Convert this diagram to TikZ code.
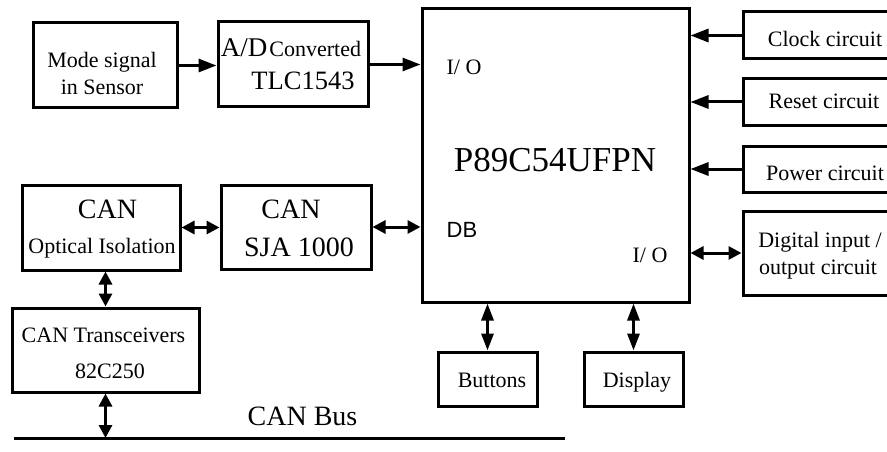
\documentclass[tikz,border=0pt]{standalone}
\usepackage{fontspec}
\setmainfont{Liberation Serif}
\newfontfamily\sansf{Liberation Sans}
\usetikzlibrary{arrows.meta}
\newcommand{\fs}[1]{\fontsize{#1}{#1}\selectfont}
\begin{document}
\begin{tikzpicture}[x=1pt,y=-1pt,
  box/.style={draw,line width=3pt,inner sep=0pt},
  txt/.style={anchor=base,inner sep=0pt,font=\fs{22}},
  conn/.style={line width=3pt,-{Triangle[length=18pt,width=13pt]}},
  dconn/.style={line width=3pt,{Triangle[length=13pt,width=13pt]}-{Triangle[length=13pt,width=13pt]}},
  vconn/.style={line width=3pt,{Triangle[length=17pt,width=12pt]}-{Triangle[length=17pt,width=12pt]}}]
\useasboundingbox (0,0) rectangle (887,452);
\clip (0,0) rectangle (887,452);
% boxes
\node[box,minimum width=144pt,minimum height=85pt] (mode) at (105,65.5) {};
\node[box,minimum width=150pt,minimum height=85pt] (ad) at (293,64.5) {};
\node[box,minimum width=267pt,minimum height=293pt] (main) at (555.5,155.5) {};
\node[box,minimum width=150pt,minimum height=47pt] (clock) at (818,35.5) {};
\node[box,minimum width=150pt,minimum height=46pt] (reset) at (818,102) {};
\node[box,minimum width=150pt,minimum height=46pt] (power) at (818,169) {};
\node[box,minimum width=150pt,minimum height=84pt] (digital) at (818,253) {};
\node[box,minimum width=158pt,minimum height=85pt] (opt) at (101,227.5) {};
\node[box,minimum width=150pt,minimum height=84pt] (sja) at (296,227) {};
\node[box,minimum width=187pt,minimum height=84pt] (trans) at (105.5,350) {};
\node[box,minimum width=99pt,minimum height=54pt] (buttons) at (487.5,379) {};
\node[box,minimum width=99pt,minimum height=54pt] (display) at (633.5,379) {};
% texts
\node[txt] (t1) at (102,68) {Mode signal};
\node[txt] (t2) at (102,95) {in Sensor};
\node[txt] (t3) at (291,57) {{\fs{27}A/D}\kern2pt Converted};
\node[txt,font=\fs{26.5}] (t4) at (303,90) {TLC1543};
\node[txt] (t5) at (464,75) {I/ O};
\node[txt,font=\fs{35}] (t6) at (555,171) {P89C54UFPN};
\node[txt,font=\sansf\fs{22}] (t7) at (462,237) {DB};
\node[txt] (t8) at (650,262) {I/ O};
\node[txt] (t9) at (825,47) {Clock circuit};
\node[txt] (t10) at (824,108) {Reset circuit};
\node[txt] (t11) at (825,180) {Power circuit};
\node[txt] (t12) at (820,247) {Digital input /};
\node[txt] (t13) at (818,274) {output circuit};
\node[txt,font=\fs{28}] (t14) at (107.5,218) {CAN};
\node[txt] (t15) at (102,253) {Optical Isolation};
\node[txt,font=\fs{28}] (t16) at (291,218) {CAN};
\node[txt,font=\fs{28}] (t17) at (299,256) {SJA 1000};
\node[txt] (t18) at (103.5,342) {CAN Transceivers};
\node[txt] (t19) at (110,378) {82C250};
\node[txt] (t20) at (492,387) {Buttons};
\node[txt] (t21) at (637,387) {Display};
\node[txt,font=\fs{28}] (t22) at (302.5,425) {CAN Bus};
% bus
\coordinate (busL) at (14,438);
\coordinate (busR) at (565,438);
\draw[line width=3pt] (busL) -- (busR);
% connectors
\draw[conn] (mode.east) -- (mode.east -| ad.west);
\draw[conn] (ad.east) -- (ad.east -| main.west);
\draw[conn] (clock.west) -- (clock.west -| main.east);
\draw[conn] (reset.west) -- (reset.west -| main.east);
\draw[conn] (power.west) -- (power.west -| main.east);
\draw[dconn] (digital.west) -- (digital.west -| main.east);
\draw[dconn] (opt.east) -- (opt.east -| sja.west);
\draw[dconn] (sja.east) -- (sja.east -| main.west);
\draw[dconn] (trans.north |- opt.south) -- (trans.north);
\draw[dconn] (trans.south) -- (trans.south |- busL);
\draw[vconn] (buttons.north |- main.south) -- (buttons.north);
\draw[vconn] (display.north |- main.south) -- (display.north);
\end{tikzpicture}
\end{document}
